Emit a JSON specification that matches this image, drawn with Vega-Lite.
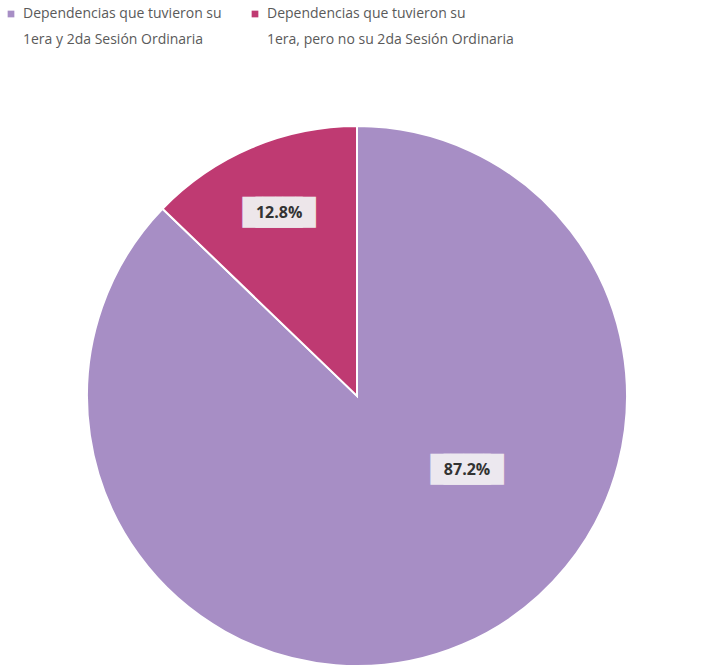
{
  "$schema": "https://vega.github.io/schema/vega-lite/v6.json",
  "width": 714,
  "height": 540,
  "autosize": {"type": "none"},
  "padding": {"left": 0, "top": 126, "right": 5, "bottom": 3},
  "background": "white",
  "view": {"stroke": null},
  "config": {"style": {"guide-label": {"lineHeight": 26}}},
  "data": {
    "values": [
      {"categoria": "Dependencias que tuvieron su|1era y 2da Sesión Ordinaria", "valor": 87.2, "etiqueta": "87.2%", "orden": 1},
      {"categoria": "Dependencias que tuvieron su|1era, pero no su 2da Sesión Ordinaria", "valor": 12.8, "etiqueta": "12.8%", "orden": 2}
    ]
  },
  "encoding": {
    "theta": {"field": "valor", "type": "quantitative", "stack": true},
    "order": {"field": "orden", "type": "quantitative"}
  },
  "layer": [
    {
      "mark": {"type": "arc", "outerRadius": 270, "stroke": "white", "strokeWidth": 2},
      "encoding": {
        "color": {
          "field": "categoria",
          "type": "nominal",
          "sort": null,
          "scale": {"range": ["#A78EC5", "#BF3A72"]},
          "legend": {
            "orient": "none",
            "legendX": 4,
            "legendY": -119,
            "direction": "horizontal",
            "columns": 2,
            "title": null,
            "symbolType": "square",
            "symbolSize": 45,
            "symbolStrokeWidth": 0,
            "symbolOffset": 0,
            "labelFont": "Open Sans",
            "labelFontSize": 14,
            "labelColor": "#5a5a5a",
            "labelLimit": 400,
            "labelOffset": 5,
            "columnPadding": 26,
            "labelExpr": "split(datum.label, '|')",
            "encode": {"symbols": {"update": {"opacity": {"value": 0.85}}}}
          }
        }
      }
    },
    {
      "mark": {"type": "text", "radius": 199, "dx": -6.5, "font": "DejaVu Sans", "fontSize": 26, "baseline": "middle", "color": "#ede6ea"},
      "encoding": {
        "text": {"value": "███"},
        "opacity": {"condition": {"test": "datum.orden == 2", "value": 1}, "value": 0}
      }
    },
    {
      "mark": {"type": "text", "radius": 199, "dx": 6.5, "font": "DejaVu Sans", "fontSize": 26, "baseline": "middle", "color": "#ede6ea"},
      "encoding": {
        "text": {"value": "███"},
        "opacity": {"condition": {"test": "datum.orden == 2", "value": 1}, "value": 0}
      }
    },
    {
      "mark": {"type": "text", "radius": 199, "font": "Open Sans", "fontSize": 16, "fontWeight": "bold", "color": "#333333"},
      "encoding": {
        "text": {"field": "etiqueta"},
        "opacity": {"condition": {"test": "datum.orden == 2", "value": 1}, "value": 0}
      }
    },
    {
      "mark": {"type": "text", "radius": 133, "dx": 51.5, "dy": -48, "font": "DejaVu Sans", "fontSize": 26, "baseline": "middle", "color": "#ece8ef"},
      "encoding": {
        "text": {"value": "███"},
        "opacity": {"condition": {"test": "datum.orden == 1", "value": 1}, "value": 0}
      }
    },
    {
      "mark": {"type": "text", "radius": 133, "dx": 64.5, "dy": -48, "font": "DejaVu Sans", "fontSize": 26, "baseline": "middle", "color": "#ece8ef"},
      "encoding": {
        "text": {"value": "███"},
        "opacity": {"condition": {"test": "datum.orden == 1", "value": 1}, "value": 0}
      }
    },
    {
      "mark": {"type": "text", "radius": 133, "dx": 58, "dy": -48, "font": "Open Sans", "fontSize": 16, "fontWeight": "bold", "color": "#333333"},
      "encoding": {
        "text": {"field": "etiqueta"},
        "opacity": {"condition": {"test": "datum.orden == 1", "value": 1}, "value": 0}
      }
    }
  ]
}
